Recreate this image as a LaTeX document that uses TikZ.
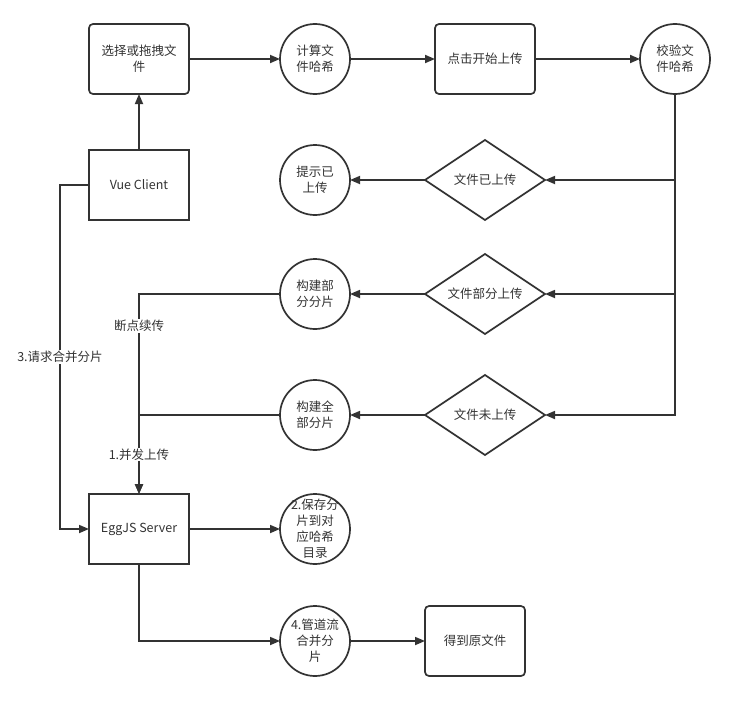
\documentclass[tikz,border=0pt]{standalone}
\usepackage{fontspec}
\newfontfamily\cjk{Noto Sans CJK SC}
\usetikzlibrary{arrows.meta, positioning, shapes.geometric}
\definecolor{ink}{HTML}{333333}

\begin{document}
\begin{tikzpicture}[font=\cjk\fontsize{12.5}{16}\selectfont, x=1pt, y=1pt]
  % Styles
  \tikzset{
    box/.style={draw=ink, line width=1.7pt, text=ink, align=center, minimum width=100pt, minimum height=70pt, inner sep=2pt, outer sep=0pt},
    rbox/.style={box, rounded corners=4pt},
    circ/.style={circle, draw=ink, line width=1.7pt, text=ink, align=center, minimum size=70pt, inner sep=-6pt, outer sep=0pt},
    dia/.style={diamond, draw=ink, line width=1.7pt, text=ink, align=center, minimum width=120pt, minimum height=80pt, inner sep=0pt, outer sep=0pt, aspect=1.5},
    arrow/.style={-{Triangle[length=10pt,width=8pt]}, draw=ink, line width=1.7pt},
    lbl/.style={fill=white, text=ink, inner sep=1pt}
  }
  \useasboundingbox (0,0) rectangle (735,-701);

  % Nodes
  \node[rbox] (sel) at (139,-59) {选择或拖拽文\\件};
  \node[box, below=56pt of sel] (vue) {Vue Client};
  \node[circ, right=91pt of sel] (hash) {计算文\\件哈希};
  \node[rbox, right=85pt of hash] (start) {点击开始上传};
  \node[circ, right=105pt of start] (check) {校验文\\件哈希};

  \node[dia, below=46pt of start] (done) {文件已上传};
  \node[dia, below=34pt of done] (part) {文件部分上传};
  \node[dia, below=41pt of part] (notup) {文件未上传};
  \node[circ, left=75pt of done] (tip) {提示已\\上传};
  \node[circ, left=75pt of part] (partcut) {构建部\\分分片};
  \node[circ, left=75pt of notup] (fullcut) {构建全\\部分片};

  \node[box, below=274pt of vue] (egg) {EggJS Server};
  \node[circ, right=91pt of egg] (save) {2.保存分\\片到对\\应哈希\\目录};
  \node[circ, below=42pt of save] (merge) {4.管道流\\合并分\\片};
  \node[rbox, right=75pt of merge] (orig) {得到原文件};

  % Arrows
  \draw[arrow] (vue) -- (sel);
  \draw[arrow] (sel) -- (hash);
  \draw[arrow] (hash) -- (start);
  \draw[arrow] (start) -- (check);
  \draw[arrow] (check.south) |- (done.east);
  \draw[arrow] (check.south) |- (part.east);
  \draw[arrow] (check.south) |- (notup.east);
  \draw[arrow] (done) -- (tip);
  \draw[arrow] (part) -- (partcut);
  \draw[arrow] (notup) -- (fullcut);
  \draw[arrow] (partcut.west) -| (egg.north) node[lbl, pos=0.58] {断点续传};
  \draw[arrow] (fullcut.west) -| (egg.north) node[lbl, pos=0.75] {1.并发上传};
  \draw[arrow] (vue.west) -- ++(-29,0) |- (egg.west) node[lbl, pos=0.25] {3.请求合并分片};
  \draw[arrow] (egg) -- (save);
  \draw[arrow] (egg.south) |- (merge.west);
  \draw[arrow] (merge) -- (orig);

\end{tikzpicture}
\end{document}
